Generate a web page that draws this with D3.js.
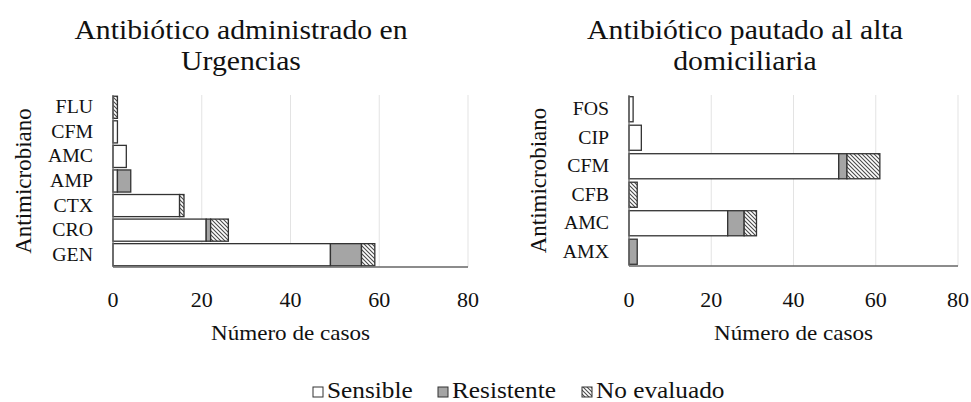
<!DOCTYPE html>
<html><head><meta charset="utf-8">
<script src="https://cdn.jsdelivr.net/npm/d3@7"></script>
<style>body{margin:0;background:#fff}svg{display:block}</style>
</head><body><svg id="c" width="971" height="402"></svg>
<script>
const catsUrg = ["FLU","CFM","AMC","AMP","CTX","CRO","GEN"];
const sensUrg = [0,1,3,1,15,21,49];
const resUrg  = [0,0,0,3,0,1,7];
const noevUrg = [1,0,0,0,1,4,3];

const catsAlta = ["FOS","CIP","CFM","CFB","AMC","AMX"];
const sensAlta = [1,3,51,0,24,0];
const resAlta  = [0,0,2,0,4,2];
const noevAlta = [0,0,8,2,3,0];

const xTicks = [0,20,40,60,80];
const seriesKeys = ["Sensible","Resistente","No evaluado"];
const titleUrg = ["Antibiótico administrado en","Urgencias"];
const titleAlta = ["Antibiótico pautado al alta","domiciliaria"];
const yTitle = "Antimicrobiano";
const xTitle = "Número de casos";

const FONT = "Liberation Serif";
const SX = 1.1;
const svg = d3.select("#c");
const defs = svg.append("defs");
const pat = defs.append("pattern").attr("id","hatch").attr("patternUnits","userSpaceOnUse")
  .attr("width",4).attr("height",4);
pat.append("rect").attr("width",4).attr("height",4).attr("fill","#fff");
pat.append("path").attr("d","M-1,-1 L5,5 M-1,3 L1,5 M3,-1 L5,1").attr("stroke","#4a4a4a").attr("stroke-width",1.1);

const fills = {"Sensible":"#ffffff","Resistente":"#a5a5a5","No evaluado":"url(#hatch)"};

function txt(g, x, y, s, size, anchor){
  return g.append("text").attr("transform",`translate(${x},${y}) scale(${SX},1)`)
    .attr("font-family",FONT).attr("fill","#111")
    .attr("text-anchor",anchor).attr("font-size",size).text(s);
}

function panel(cfg){
  const g = svg.append("g");
  const x = d3.scaleLinear().domain([0,80]).range([cfg.x0,cfg.x1]);
  const y = d3.scaleBand().domain(cfg.cats).range([cfg.y0,cfg.y1]).paddingInner(cfg.pad).paddingOuter(cfg.pad/2);
  g.selectAll(".grid").data(xTicks.slice(1)).join("line")
    .attr("x1",d=>x(d)).attr("x2",d=>x(d)).attr("y1",cfg.y0).attr("y2",cfg.y1)
    .attr("stroke","#e3e3e3").attr("stroke-width",1);
  const rows = cfg.cats.map((c,i)=>({cat:c,"Sensible":cfg.s[i],"Resistente":cfg.r[i],"No evaluado":cfg.n[i]}));
  const stacked = d3.stack().keys(seriesKeys)(rows);
  stacked.forEach(layer=>{
    g.selectAll(null).data(layer.filter(d=>d[1]-d[0]>0)).join("rect")
      .attr("x",d=>x(d[0])).attr("width",d=>x(d[1])-x(d[0]))
      .attr("y",d=>y(d.data.cat)).attr("height",y.bandwidth())
      .attr("fill",fills[layer.key]).attr("stroke","#333").attr("stroke-width",1.3);
  });
  g.append("line").attr("x1",cfg.x0).attr("x2",cfg.x0).attr("y1",cfg.y0).attr("y2",cfg.y1).attr("stroke","#666").attr("stroke-width",1.3);
  g.append("line").attr("x1",cfg.x0).attr("x2",cfg.x1).attr("y1",cfg.y1).attr("y2",cfg.y1).attr("stroke","#666").attr("stroke-width",1.3);
  cfg.cats.forEach(c=>txt(g, cfg.x0-20, y(c)+y.bandwidth()/2+6, c, 18, "end"));
  xTicks.forEach(t=>txt(g, x(t), 307, t, 20, "middle"));
  txt(g, (cfg.x0+cfg.x1)/2, 340, xTitle, 21, "middle");
  g.append("text").attr("transform",`translate(${cfg.ytx},${(cfg.y0+cfg.y1)/2}) rotate(-90)`)
    .attr("font-family",FONT).attr("fill","#111")
    .attr("text-anchor","middle").attr("font-size",23).text(yTitle);
  cfg.title.forEach((t,i)=>txt(g, cfg.tx, 39+i*31, t, 27, "middle"));
}

panel({cats:catsUrg,s:sensUrg,r:resUrg,n:noevUrg,x0:113,x1:468,y0:95,y1:267,pad:0.1,ytx:31,tx:241,title:titleUrg});
panel({cats:catsAlta,s:sensAlta,r:resAlta,n:noevAlta,x0:629,x1:958,y0:95,y1:266,pad:0.12,ytx:546,tx:745,title:titleAlta});

const leg = svg.append("g");
const legX = [313,438,582];
seriesKeys.forEach((k,i)=>{
  leg.append("rect").attr("x",legX[i]).attr("y",387).attr("width",10).attr("height",10)
    .attr("fill",fills[k]).attr("stroke","#333").attr("stroke-width",1);
  txt(leg, legX[i]+14, 398, k, 23, "start");
});
</script></body></html>
